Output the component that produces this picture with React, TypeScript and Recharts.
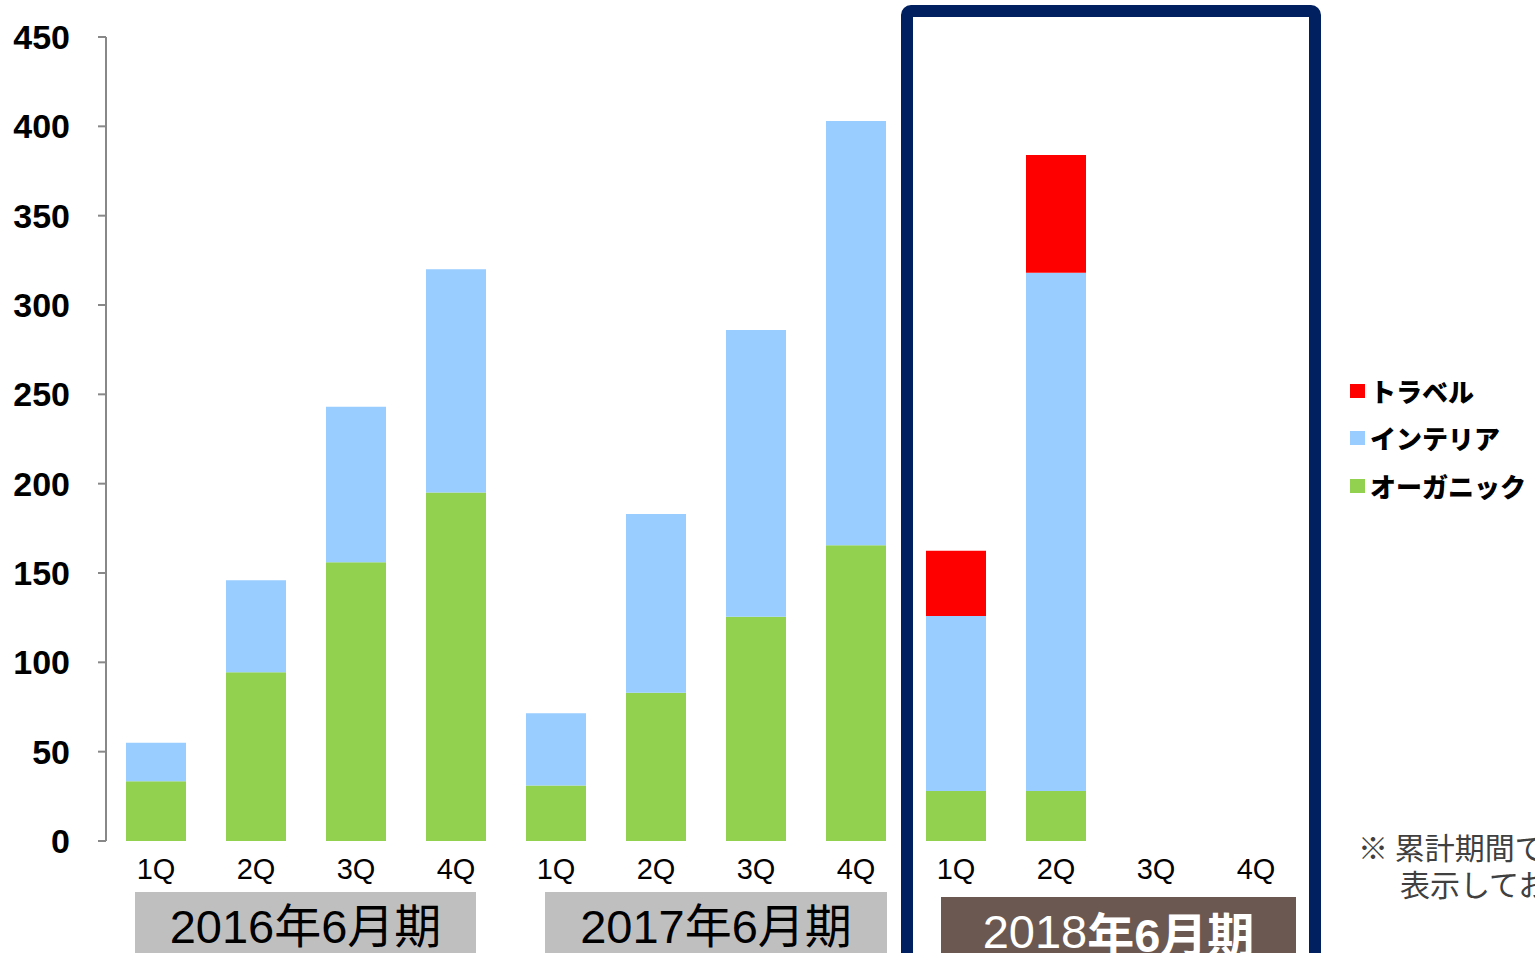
import React from "react";
import { BarChart, Bar, XAxis, YAxis } from "recharts";

const quarters = ["1Q", "2Q", "3Q", "4Q", "1Q", "2Q", "3Q", "4Q", "1Q", "2Q", "3Q", "4Q"];
const organic = [33.5, 94.5, 156, 195, 31, 83, 125.5, 165.5, 28, 28, null, null];
const interior = [21.5, 51.5, 87, 125, 40.5, 100, 160.5, 237.5, 98, 290, null, null];
const travel = [null, null, null, null, null, null, null, null, 36.5, 66, null, null];
const yTicks = [0, 50, 100, 150, 200, 250, 300, 350, 400, 450];
const seriesNames = { travel: "トラベル", interior: "インテリア", organic: "オーガニック" };
const seriesColors = { travel: "#FF0000", interior: "#99CCFF", organic: "#92D050" };
const periodLabels = ["2016年6月期", "2017年6月期"];
const period2018 = ["2018", "年6月期"];
const footnote = ["※ 累計期間で", "表示しております"];

const data = quarters.map((q, i) => ({
  idx: i,
  q,
  organic: organic[i],
  interior: interior[i],
  travel: travel[i],
}));

const LATIN = "'Liberation Sans', Arial, 'Noto Sans CJK JP', sans-serif";
const CJK = "'Noto Sans CJK JP', sans-serif";

const LegendBox = () => {
  const keys = ["travel", "interior", "organic"] as const;
  return (
    <div style={{ position: "absolute", left: 1350, top: 367, fontFamily: CJK }}>
      {keys.map((k) => (
        <div key={k} style={{ display: "flex", alignItems: "center", height: 47.5 }}>
          <div style={{ width: 15, height: 14, background: seriesColors[k], marginRight: 5 }} />
          <span style={{ fontSize: 26, fontWeight: 900, color: "#000", lineHeight: "30px", whiteSpace: "nowrap" }}>
            {seriesNames[k]}
          </span>
        </div>
      ))}
    </div>
  );
};

const boxStyle: React.CSSProperties = {
  position: "absolute",
  display: "flex",
  alignItems: "center",
  justifyContent: "center",
  fontFamily: LATIN,
  fontSize: 47,
  whiteSpace: "nowrap",
};

export default function App() {
  return (
    <div
      style={{
        position: "absolute",
        left: 0,
        top: 0,
        width: 1535,
        height: 953,
        overflow: "hidden",
        background: "#fff",
      }}
    >
      <BarChart
        width={1535}
        height={953}
        data={data}
        margin={{ top: 37, right: 229, bottom: 82, left: 0 }}
        barSize={60}
      >
        <XAxis
          dataKey="idx"
          type="category"
          axisLine={false}
          tickLine={false}
          tickSize={6}
          tickMargin={11}
          tickFormatter={(v: number) => quarters[v]}
          tick={{ fontSize: 29, fill: "#000", fontFamily: LATIN }}
          interval={0}
          height={30}
        />
        <YAxis
          width={106}
          domain={[0, 450]}
          ticks={yTicks}
          interval={0}
          axisLine={{ stroke: "#888888", strokeWidth: 2 }}
          tickLine={{ stroke: "#888888", strokeWidth: 2 }}
          tickSize={8}
          tickMargin={28}
          tick={{ fontSize: 34, fontWeight: 700, fill: "#000", fontFamily: LATIN }}
        />
        <Bar dataKey="organic" stackId="a" fill={seriesColors.organic} name={seriesNames.organic} isAnimationActive={false} />
        <Bar dataKey="interior" stackId="a" fill={seriesColors.interior} name={seriesNames.interior} isAnimationActive={false} />
        <Bar dataKey="travel" stackId="a" fill={seriesColors.travel} name={seriesNames.travel} isAnimationActive={false} />
      </BarChart>

      <LegendBox />

      <div style={{ ...boxStyle, left: 135, top: 892, width: 341, height: 61, background: "#BFBFBF", color: "#000" }}>
        {periodLabels[0]}
      </div>
      <div style={{ ...boxStyle, left: 545, top: 892, width: 342, height: 61, background: "#BFBFBF", color: "#000" }}>
        {periodLabels[1]}
      </div>
      <div style={{ ...boxStyle, left: 941, top: 897, width: 355, height: 68, background: "#6B5850", color: "#fff" }}>
        <span>{period2018[0]}</span>
        <span style={{ fontWeight: 700 }}>{period2018[1]}</span>
      </div>

      <div
        style={{
          position: "absolute",
          left: 901,
          top: 5,
          width: 420,
          height: 1000,
          border: "12px solid #002060",
          borderRadius: 10,
          boxSizing: "border-box",
          pointerEvents: "none",
        }}
      />

      <div
        style={{
          position: "absolute",
          left: 1358,
          top: 828,
          fontFamily: CJK,
          fontSize: 30,
          color: "#404040",
          lineHeight: "37px",
          whiteSpace: "nowrap",
        }}
      >
        <div>{footnote[0]}</div>
        <div style={{ paddingLeft: 42 }}>{footnote[1]}</div>
      </div>
    </div>
  );
}
